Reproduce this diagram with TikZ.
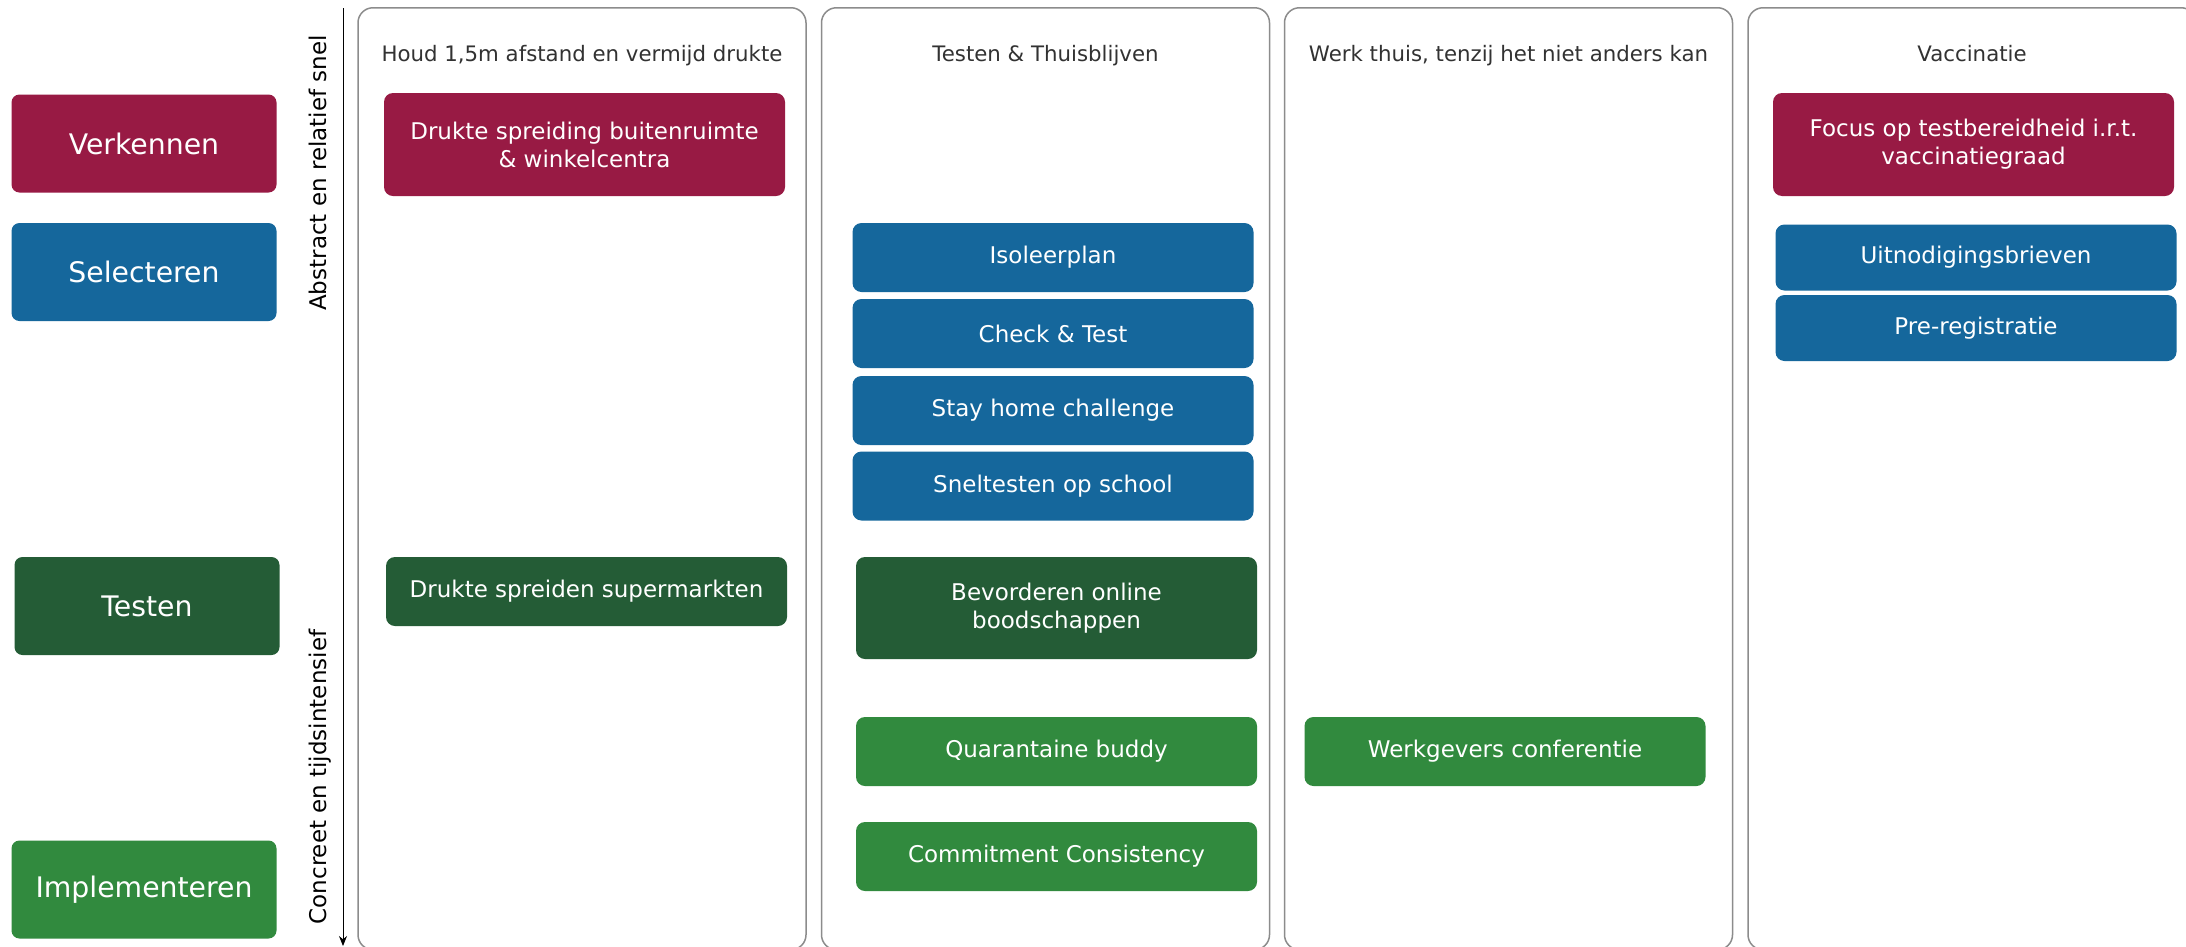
\documentclass[tikz,border=0pt]{standalone}
\usepackage{fontspec}
\setmainfont{DejaVu Sans}
\usetikzlibrary{arrows.meta}

\definecolor{verkrood}{RGB}{152,26,68}
\definecolor{selblauw}{RGB}{21,103,156}
\definecolor{testgroen}{RGB}{36,92,54}
\definecolor{implgroen}{RGB}{49,138,62}
\definecolor{kolomgrijs}{RGB}{140,140,140}
\definecolor{kopgrijs}{RGB}{50,50,50}

\tikzset{
  fase/.style={rounded corners=8pt, minimum width=265pt, minimum height=98pt,
    text=white, font=\fontsize{28.3}{30}\selectfont},
  blok/.style={rounded corners=9pt, minimum width=401pt, minimum height=69pt,
    text=white, align=center, font=\fontsize{23}{28}\selectfont},
  kolom/.style={draw=kolomgrijs, line width=1.5pt, rounded corners=15pt,
    minimum width=448pt, minimum height=942pt, anchor=north},
  kop/.style={text=kopgrijs, anchor=base, font=\fontsize{21.3}{24}\selectfont},
  as/.style={rotate=90, anchor=base, font=\fontsize{23}{25}\selectfont},
}

\begin{document}
\begin{tikzpicture}[x=1pt,y=-1pt]
  \fill[white] (0,0) rectangle (2186,946);
  \useasboundingbox (0,0) rectangle (2186,946);

  % fasen links
  \foreach \naam/\x/\y/\tekst/\kleur in {verk/144/143.5/Verkennen/verkrood,
      sel/144/272/Selecteren/selblauw, test/147/606/Testen/testgroen,
      impl/144/889.5/Implementeren/implgroen} {
      \node[fase, fill=\kleur] (\naam) at (\x,\y) {\tekst};
  }

  % as: abstract -> concreet
  \coordinate (boven) at (343,8);
  \coordinate (onder) at (343,946);
  \draw[-{Stealth[length=10pt,width=8pt]}, line width=1pt] (boven) -- (onder);
  \node[as] (abstract) at (326,173) {Abstract en relatief snel};
  \node[as] (concreet) at (326,777) {Concreet en tijdsintensief};

  % kolommen met kop
  \foreach \i/\x/\titel in {1/582/{Houd 1,5m afstand en vermijd drukte},
      2/1045.5/{Testen \& Thuisblijven},
      3/1508.5/{Werk thuis, tenzij het niet anders kan},
      4/1972/Vaccinatie} {
      \node[kolom] (kolom\i) at (\x,7) {};
      \node[kop] (kop\i) at (\x,61) {\titel};
  }

  % kolom 1
  \node[blok, fill=verkrood, minimum height=103pt] (buitenruimte) at (584.5,144.5)
    {Drukte spreiding buitenruimte\\\& winkelcentra};
  \node[blok, fill=testgroen] (supermarkten) at (586.5,591.5) {Drukte spreiden supermarkten};

  % kolom 2
  \foreach \naam/\y/\tekst in {isoleer/257.5/Isoleerplan, check/333.5/{Check \& Test},
      stayhome/410.5/Stay home challenge, sneltest/486/Sneltesten op school} {
      \node[blok, fill=selblauw] (\naam) at (1053,\y) {\tekst};
  }
  \node[blok, fill=testgroen, minimum height=102pt] (online) at (1056.5,608)
    {Bevorderen online\\boodschappen};
  \node[blok, fill=implgroen] (buddy) at (1056.5,751.5) {Quarantaine buddy};
  \node[blok, fill=implgroen] (commitment) at (1056.5,856.5) {Commitment Consistency};

  % kolom 3
  \node[blok, fill=implgroen] (werkgevers) at (1505,751.5) {Werkgevers conferentie};

  % kolom 4
  \node[blok, fill=verkrood, minimum height=103pt] (focus) at (1973.5,144.5)
    {Focus op testbereidheid i.r.t.\\vaccinatiegraad};
  \node[blok, fill=selblauw, minimum height=66pt] (brieven) at (1976,257.5) {Uitnodigingsbrieven};
  \node[blok, fill=selblauw, minimum height=66pt] (prereg) at (1976,328) {Pre-registratie};
\end{tikzpicture}
\end{document}
